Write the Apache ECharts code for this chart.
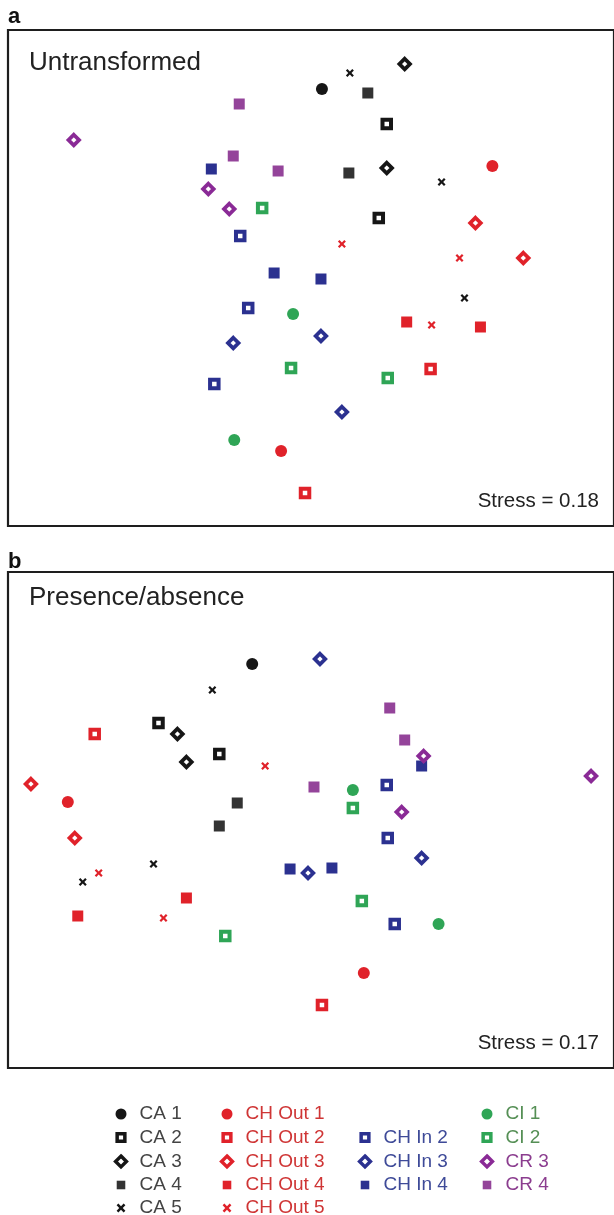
<!DOCTYPE html>
<html><head><meta charset="utf-8">
<script src="https://cdn.jsdelivr.net/npm/echarts@6/dist/echarts.min.js"></script>
<style>html,body{margin:0;padding:0;background:#fff}#c{width:614px;height:1215px}</style>
</head><body><div id="c"></div>
<script>
// ---- data (NMDS coordinates) ----
const categories = ['CA 1','CA 2','CA 3','CA 4','CA 5','CH Out 1','CH Out 2','CH Out 3','CH Out 4','CH Out 5','CH In 2','CH In 3','CH In 4','CI 1','CI 2','CR 3','CR 4'];
const panelLetters = ['a','b'];
const panelTitles = ['Untransformed','Presence/absence'];
const stressValues = [0.18, 0.17];

// panel a: untransformed
const ca1A = [[0.055,0.945]];
const ca2A = [[0.38,0.77],[0.34,0.30]];
const ca3A = [[0.47,1.07],[0.38,0.55]];
const ca4A = [[0.285,0.925],[0.19,0.525]];
const ca5A = [[0.195,1.025],[0.655,0.48],[0.77,-0.10]];
const out1A = [[0.91,0.56],[-0.15,-0.865]];
const out2A = [[0.60,-0.455],[-0.03,-1.075]];
const out3A = [[0.825,0.275],[1.065,0.10]];
const out4A = [[0.48,-0.22],[0.85,-0.245]];
const out5A = [[0.155,0.17],[0.745,0.10],[0.605,-0.235]];
const in2A = [[-0.355,0.21],[-0.315,-0.15],[-0.485,-0.53]];
const in3A = [[-0.39,-0.325],[0.05,-0.29],[0.155,-0.67]];
const in4A = [[-0.50,0.545],[-0.185,0.025],[0.05,-0.005]];
const ci1A = [[-0.09,-0.18],[-0.385,-0.81]];
const ci2A = [[-0.245,0.35],[-0.10,-0.45],[0.385,-0.50]];
const cr3A = [[-1.19,0.69],[-0.515,0.445],[-0.41,0.345]];
const cr4A = [[-0.36,0.87],[-0.39,0.61],[-0.165,0.535]];

// panel b: presence/absence
const ca1B = [[-0.295,0.78]];
const ca2B = [[-0.765,0.485],[-0.46,0.33]];
const ca3B = [[-0.67,0.43],[-0.625,0.29]];
const ca4B = [[-0.37,0.085],[-0.46,-0.03]];
const ca5B = [[-0.495,0.65],[-0.79,-0.22],[-1.145,-0.31]];
const out1B = [[-1.22,0.09],[0.265,-0.765]];
const out2B = [[-1.085,0.43],[0.055,-0.925]];
const out3B = [[-1.405,0.18],[-1.185,-0.09]];
const out4B = [[-0.625,-0.39],[-1.17,-0.48]];
const out5B = [[-0.23,0.27],[-1.065,-0.265],[-0.74,-0.49]];
const in2B = [[0.38,0.175],[0.385,-0.09],[0.42,-0.52]];
const in3B = [[0.045,0.805],[0.555,-0.19],[-0.015,-0.265]];
const in4B = [[0.555,0.27],[-0.105,-0.245],[0.105,-0.24]];
const ci1B = [[0.21,0.15],[0.64,-0.52]];
const ci2B = [[0.21,0.06],[0.255,-0.405],[-0.43,-0.58]];
const cr3B = [[0.565,0.32],[1.405,0.22],[0.455,0.04]];
const cr4B = [[0.395,0.56],[0.47,0.40],[0.015,0.165]];

const panelA = [ca1A,ca2A,ca3A,ca4A,ca5A,out1A,out2A,out3A,out4A,out5A,in2A,in3A,in4A,ci1A,ci2A,cr3A,cr4A];
const panelB = [ca1B,ca2B,ca3B,ca4B,ca5B,out1B,out2B,out3B,out4B,out5B,in2B,in3B,in4B,ci1B,ci2B,cr3B,cr4B];

// legend columns
const legendCols = [
  ['CA 1','CA 2','CA 3','CA 4','CA 5'],
  ['CH Out 1','CH Out 2','CH Out 3','CH Out 4','CH Out 5'],
  ['CH In 2','CH In 3','CH In 4'],
  ['CI 1','CI 2','CR 3','CR 4']
];

// ---- styles ----
const FONT = '"Liberation Sans", Arial, Helvetica, sans-serif';
const BLACK='#161616', DARK='#333333', RED='#e0222a', BLUE='#2b3190', GREEN='#2fa556', PURPLE='#8a2a96', PURPLE2='#94449a';
const TXT = {CA:'#444444', OUT:'#cf3535', IN:'#3e4a98', CI:'#558f55', CR:'#8b3d8f'};
const styleOf = {
  'CA 1':['dot',BLACK,TXT.CA],'CA 2':['hsq',BLACK,TXT.CA],'CA 3':['hdia',BLACK,TXT.CA],'CA 4':['sq',DARK,TXT.CA],'CA 5':['x',BLACK,TXT.CA],
  'CH Out 1':['dot',RED,TXT.OUT],'CH Out 2':['hsq',RED,TXT.OUT],'CH Out 3':['hdia',RED,TXT.OUT],'CH Out 4':['sq',RED,TXT.OUT],'CH Out 5':['x',RED,TXT.OUT],
  'CH In 2':['hsq',BLUE,TXT.IN],'CH In 3':['hdia',BLUE,TXT.IN],'CH In 4':['sq',BLUE,TXT.IN],
  'CI 1':['dot',GREEN,TXT.CI],'CI 2':['hsq',GREEN,TXT.CI],
  'CR 3':['hdia',PURPLE,TXT.CR],'CR 4':['sq',PURPLE2,TXT.CR]
};
const XPATH = 'path://M0,2L2,0L5,3L8,0L10,2L7,5L10,8L8,10L5,7L2,10L0,8L3,5Z';
const plotSym = {
  dot:  (c)=>({symbol:'circle', symbolSize:12, itemStyle:{color:c, borderWidth:0, opacity:1}}),
  hsq:  (c)=>({symbol:'rect', symbolSize:8.5, itemStyle:{color:'#fff', borderColor:c, borderWidth:4, opacity:1}}),
  hdia: (c)=>({symbol:'diamond', symbolSize:10.5, itemStyle:{color:'#fff', borderColor:c, borderWidth:3.8, opacity:1}}),
  sq:   (c)=>({symbol:'rect', symbolSize:11, itemStyle:{color:c, borderWidth:0, opacity:1}}),
  x:    (c)=>({symbol:XPATH, symbolSize:8, itemStyle:{color:c, borderWidth:0, opacity:1}})
};
const legendIcon = {
  dot:'path://M0,0M15,15M2.5,7.5A5,5,0,1,1,12.5,7.5A5,5,0,1,1,2.5,7.5Z',
  hsq:'path://M0,0M15,15M4,4L11,4L11,11L4,11Z',
  hdia:'path://M0,0M15,15M7.5,2.6L12.4,7.5L7.5,12.4L2.6,7.5Z',
  sq:'path://M0,0M15,15M3.6,3.6L11.4,3.6L11.4,11.4L3.6,11.4Z',
  x:'path://M0,0M15,15M3.5,5.1L5.1,3.5L7.5,5.9L9.9,3.5L11.5,5.1L9.1,7.5L11.5,9.9L9.9,11.5L7.5,9.1L5.1,11.5L3.5,9.9L5.9,7.5Z'
};
const legendItemStyle = (kind,c)=> (kind==='hsq'||kind==='hdia')
  ? {color:'#fff', borderColor:c, borderWidth:3.5, opacity:1}
  : {color:c, borderColor:c, borderWidth:0, opacity:1};

const gridTops = [30, 572];
const series = [];
[panelA, panelB].forEach((panel, gi) => {
  panel.forEach((pts, k) => {
    const name = categories[k];
    const [kind, col] = styleOf[name];
    series.push(Object.assign({
      type:'scatter', name, xAxisIndex:gi, yAxisIndex:gi, data:pts,
      emphasis:{disabled:true}
    }, plotSym[kind](col)));
  });
});

const legendLefts = [111, 217, 355, 477];
const legendTops = [1104.5, 1104.5, 1127.5, 1104.5];
const legends = legendCols.map((names, i) => ({
  orient:'vertical', left:legendLefts[i], top:legendTops[i], height:140, padding:0,
  itemWidth:27, itemHeight:16.5, itemGap:4, symbolKeepAspect:true, selectedMode:false,
  textStyle:{fontSize:19, fontFamily:FONT, lineHeight:16},
  data:names.map(n => {
    const [kind, col, tcol] = styleOf[n];
    return {name:n, icon:legendIcon[kind], itemStyle:legendItemStyle(kind,col), textStyle:{color:tcol}};
  })
}));

const graphic = [];
const letterY = [17, 562];
const titleY = [63, 598];
const stressY = [501, 1043];
[0,1].forEach(i => {
  graphic.push({type:'text', x:8, y:letterY[i], style:{text:panelLetters[i], font:'bold 22px '+FONT, fill:'#111', align:'left', verticalAlign:'middle', textAlign:'left', textVerticalAlign:'middle'}});
  graphic.push({type:'text', x:29, y:titleY[i], style:{text:panelTitles[i], font:'26px '+FONT, fill:'#222', align:'left', verticalAlign:'middle', textAlign:'left', textVerticalAlign:'middle'}});
  graphic.push({type:'text', x:599, y:stressY[i], style:{text:'Stress = '+stressValues[i].toFixed(2), font:'20.5px '+FONT, fill:'#222', align:'right', verticalAlign:'middle', textAlign:'right', textVerticalAlign:'middle'}});
});

const chart = echarts.init(document.getElementById('c'), null, {renderer:'canvas'});
chart.setOption({
  animation:false,
  backgroundColor:'#fff',
  grid: gridTops.map(t => ({left:8, top:t, right:-2, height:496, show:true, borderColor:'#1e1e1e', borderWidth:2.2, backgroundColor:'transparent'})),
  xAxis: [0,1].map(i => ({type:'value', gridIndex:i, min:-1.52, max:1.52, show:false})),
  yAxis: [0,1].map(i => ({type:'value', gridIndex:i, min:-1.24, max:1.24, show:false})),
  legend: legends,
  graphic: graphic,
  series: series
});
</script>
</body></html>
